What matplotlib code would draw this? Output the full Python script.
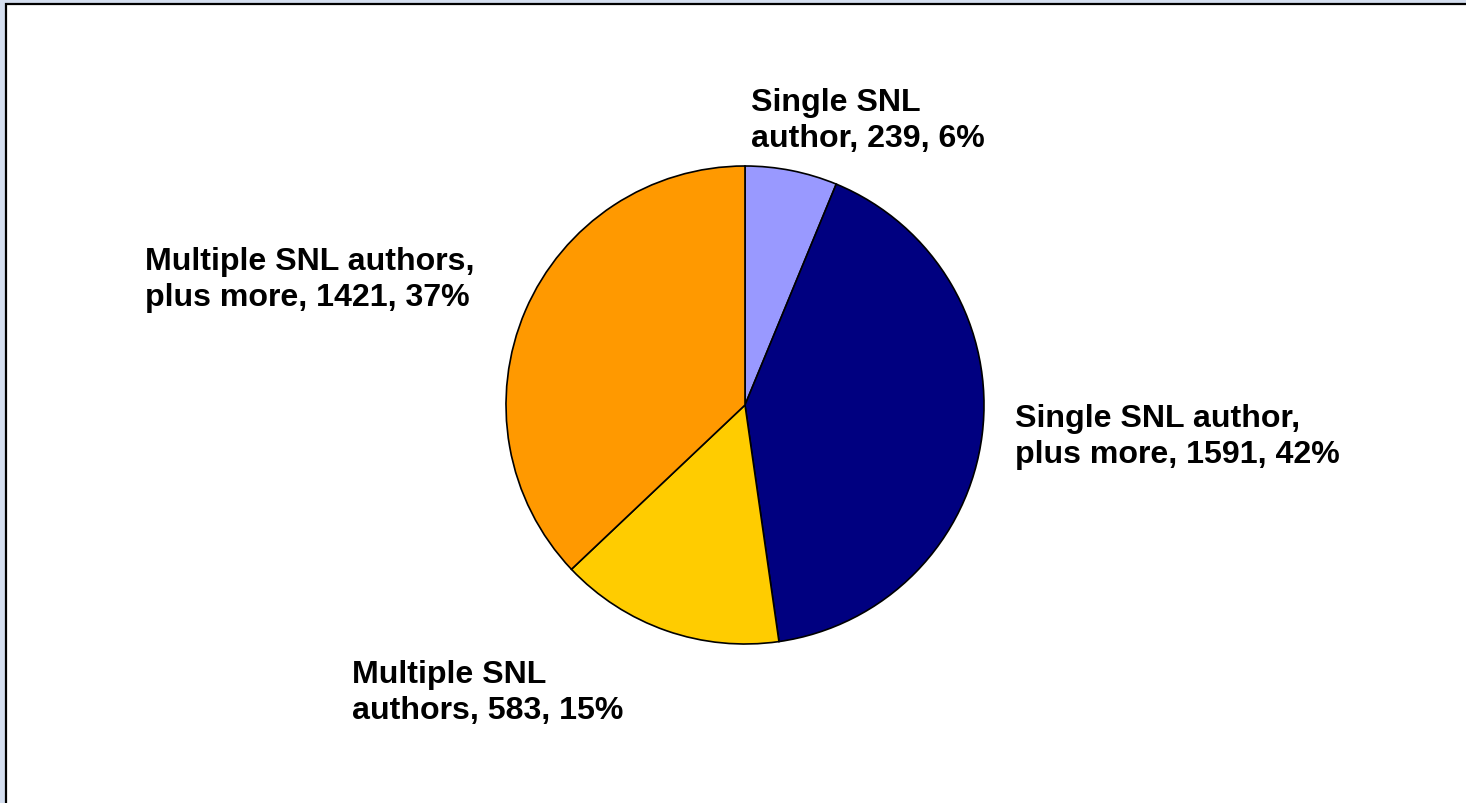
import matplotlib.pyplot as plt
from matplotlib.patches import Rectangle

# slice data, clockwise from 12 o'clock
categories = ['Single SNL\nauthor', 'Single SNL author,\nplus more',
              'Multiple SNL\nauthors', 'Multiple SNL authors,\nplus more']
counts = [239, 1591, 583, 1421]
colors = ['#9999FF', '#000080', '#FFCC00', '#FF9900']

W, H = 1466, 804
fig = plt.figure(figsize=(W / 100, H / 100), dpi=100)
fig.patch.set_facecolor('#D4DEEF')

# white chart area with black frame (runs off the right/bottom edge)
fig.patches.append(Rectangle((6 / W, -0.05), 1.2, 1 - 5 / H + 0.05,
                             transform=fig.transFigure, facecolor='white',
                             edgecolor='black', linewidth=1.6, zorder=-1))

cx, cy, r = 745, 406, 239
ax = fig.add_axes([(cx - r) / W, (H - cy - r) / H, 2 * r / W, 2 * r / H])
ax.set_zorder(1)
ax.pie(counts, colors=colors, startangle=90, counterclock=False,
       wedgeprops=dict(edgecolor='black', linewidth=1.2))
ax.set_xlim(-1, 1)
ax.set_ylim(-1, 1)
ax.set_aspect('equal')

# percentages rounded so they add up to 100 (like Excel)
total = sum(counts)
raw = [100 * n / total for n in counts]
pcts = [int(p) for p in raw]
order = sorted(range(len(raw)), key=lambda i: raw[i] - pcts[i], reverse=True)
for i in order[:100 - sum(pcts)]:
    pcts[i] += 1

labels = ['%s, %d, %d%%' % (c, n, p)
          for c, n, p in zip(categories, counts, pcts)]

# label anchor (left, top) in pixels
label_pos = [(751, 88), (1015, 404), (352, 660), (145, 247)]
for lab, (x, y) in zip(labels, label_pos):
    fig.text(x / W, 1 - y / H, lab, ha='left', va='top', fontsize=23.1,
             fontweight='bold', family='Liberation Sans', linespacing=1.27)

fig.savefig('out.png', dpi=100, facecolor=fig.get_facecolor())
